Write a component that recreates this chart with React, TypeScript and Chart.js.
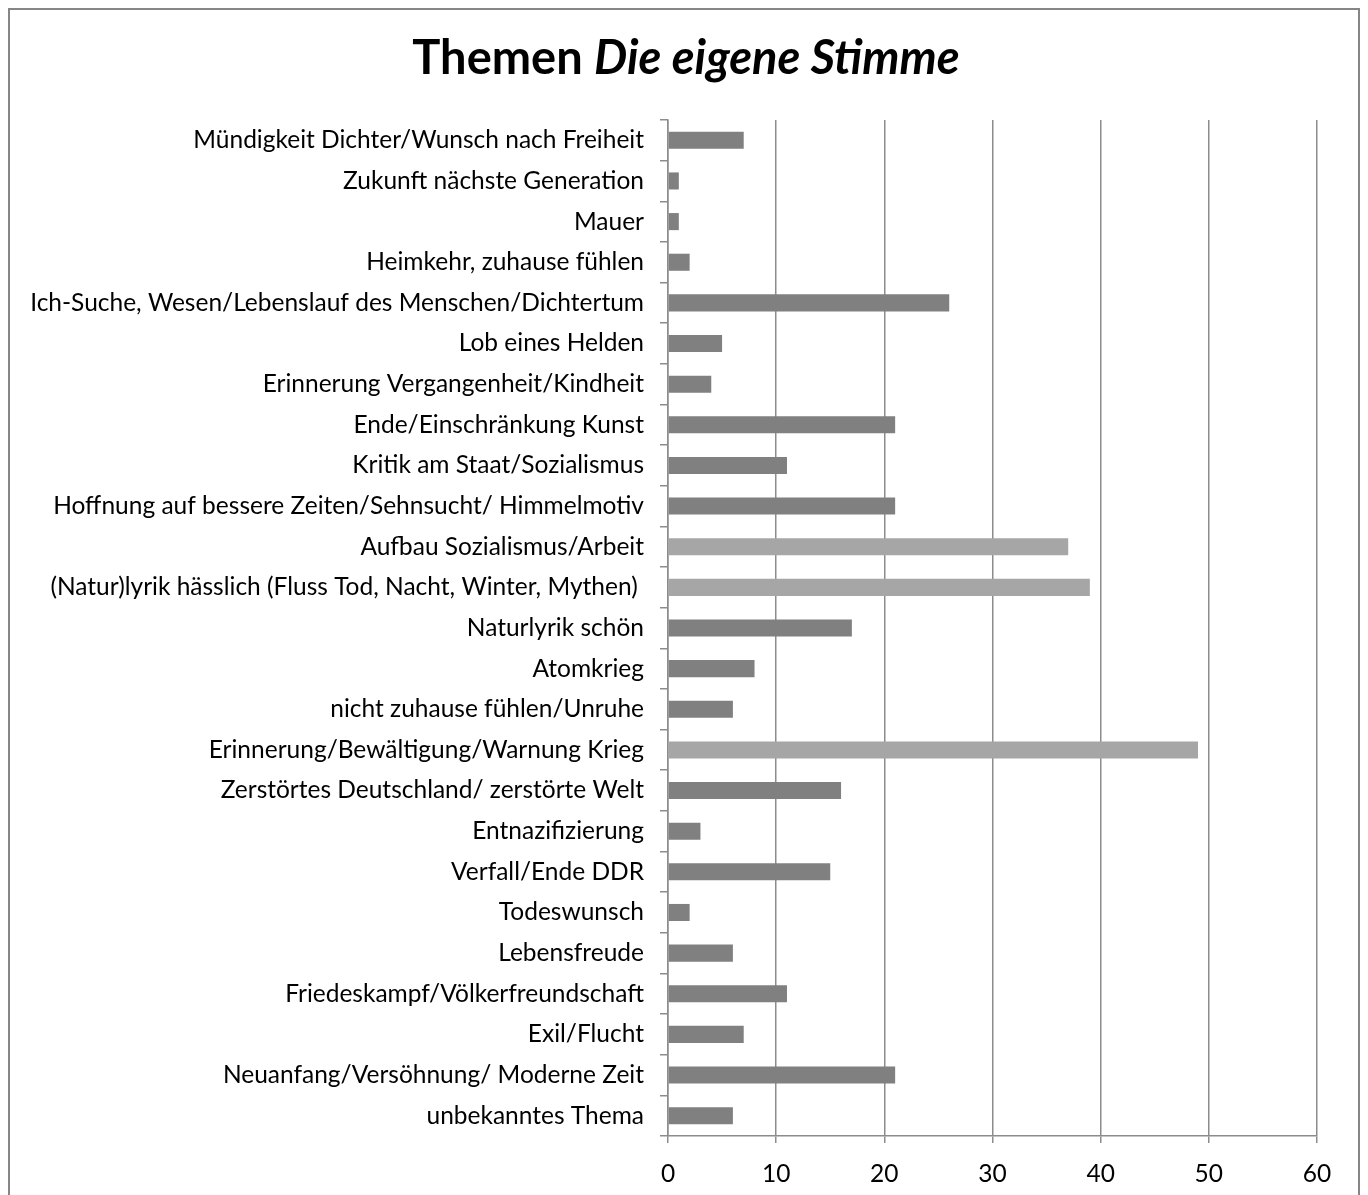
import React, { useEffect, useRef } from "react";
import { Chart, registerables } from "chart.js";

Chart.register(...registerables);

const titleMain = "Themen ";
const titleItalic = "Die eigene Stimme";

const categories = [
  "Mündigkeit Dichter/Wunsch nach Freiheit",
  "Zukunft nächste Generation",
  "Mauer",
  "Heimkehr, zuhause fühlen",
  "Ich-Suche, Wesen/Lebenslauf des Menschen/Dichtertum",
  "Lob eines Helden",
  "Erinnerung Vergangenheit/Kindheit",
  "Ende/Einschränkung Kunst",
  "Kritik am Staat/Sozialismus",
  "Hoffnung auf bessere Zeiten/Sehnsucht/ Himmelmotiv",
  "Aufbau Sozialismus/Arbeit",
  "(Natur)lyrik hässlich (Fluss Tod, Nacht, Winter, Mythen) ",
  "Naturlyrik schön",
  "Atomkrieg",
  "nicht zuhause fühlen/Unruhe",
  "Erinnerung/Bewältigung/Warnung Krieg",
  "Zerstörtes Deutschland/ zerstörte Welt",
  "Entnazifizierung",
  "Verfall/Ende DDR",
  "Todeswunsch",
  "Lebensfreude",
  "Friedeskampf/Völkerfreundschaft",
  "Exil/Flucht",
  "Neuanfang/Versöhnung/ Moderne Zeit",
  "unbekanntes Thema",
];

const values = [7, 1, 1, 2, 26, 5, 4, 21, 11, 21, 37, 39, 17, 8, 6, 49, 16, 3, 15, 2, 6, 11, 7, 21, 6];

// categories highlighted in a lighter grey
const highlighted = [
  "Aufbau Sozialismus/Arbeit",
  "(Natur)lyrik hässlich (Fluss Tod, Nacht, Winter, Mythen) ",
  "Erinnerung/Bewältigung/Warnung Krieg",
];

const xMin = 0;
const xMax = 60;
const xStep = 10;

const DARK = "#808080";
const LIGHT = "#a6a6a6";
const GRID = "#8c8c8c";
const FONT = "Lato";

export default function App() {
  const ref = useRef<HTMLCanvasElement | null>(null);

  useEffect(() => {
    if (!ref.current) return;
    const titlePlugin = {
      id: "mixedTitle",
      afterDraw(chart: any) {
        const ctx = chart.ctx as CanvasRenderingContext2D;
        ctx.save();
        ctx.fillStyle = "#000";
        ctx.textBaseline = "alphabetic";
        const boldFont = `bold 47px ${FONT}`;
        const italFont = `italic bold 47px ${FONT}`;
        ctx.font = boldFont;
        const w1 = ctx.measureText(titleMain).width;
        ctx.font = italFont;
        const w2 = ctx.measureText(titleItalic).width;
        const cx = chart.width / 2 + 2;
        const x0 = cx - (w1 + w2) / 2;
        const y = 64;
        ctx.font = boldFont;
        ctx.textAlign = "left";
        ctx.fillText(titleMain, x0, y);
        ctx.font = italFont;
        ctx.fillText(titleItalic, x0 + w1, y);
        ctx.restore();
      },
    };

    const chart = new Chart(ref.current, {
      type: "bar",
      data: {
        labels: categories,
        datasets: [
          {
            data: values,
            backgroundColor: categories.map((c) => (highlighted.includes(c) ? LIGHT : DARK)),
            borderWidth: 0,
            categoryPercentage: 0.42,
            barPercentage: 1,
          },
        ],
      },
      options: {
        indexAxis: "y",
        responsive: false,
        animation: false,
        maintainAspectRatio: false,
        layout: { padding: { top: 110, right: 41, left: 0, bottom: 0 } },
        plugins: {
          legend: { display: false },
          title: { display: false },
          tooltip: { enabled: false },
        },
        scales: {
          x: {
            min: xMin,
            max: xMax,
            ticks: {
              stepSize: xStep,
              color: "#000",
              font: { family: FONT, size: 24.5 },
              padding: 16,
            },
            grid: {
              color: GRID,
              lineWidth: 1.5,
              tickLength: 7,
              drawTicks: true,
            },
            border: { display: true, color: GRID, width: 1.5 },
            afterFit: (scale: any) => {
              scale.height = 59;
            },
          },
          y: {
            ticks: {
              color: "#000",
              font: { family: FONT, size: 24.5 },
              padding: 16,
              autoSkip: false,
            },
            grid: {
              offset: true,
              drawOnChartArea: false,
              drawTicks: true,
              tickLength: 8,
              color: GRID,
              lineWidth: 1.5,
            },
            border: { display: true, color: GRID, width: 1.5 },
            afterFit: (scale: any) => {
              scale.width = 658;
            },
          },
        },
      },
      plugins: [titlePlugin],
    });
    return () => chart.destroy();
  }, []);

  return (
    <div
      style={{
        width: 1348,
        height: 1200,
        border: "2px solid #868686",
        background: "#fff",
        overflow: "hidden",
      }}
    >
      <canvas ref={ref} width={1348} height={1185} style={{ display: "block" }} />
    </div>
  );
}
